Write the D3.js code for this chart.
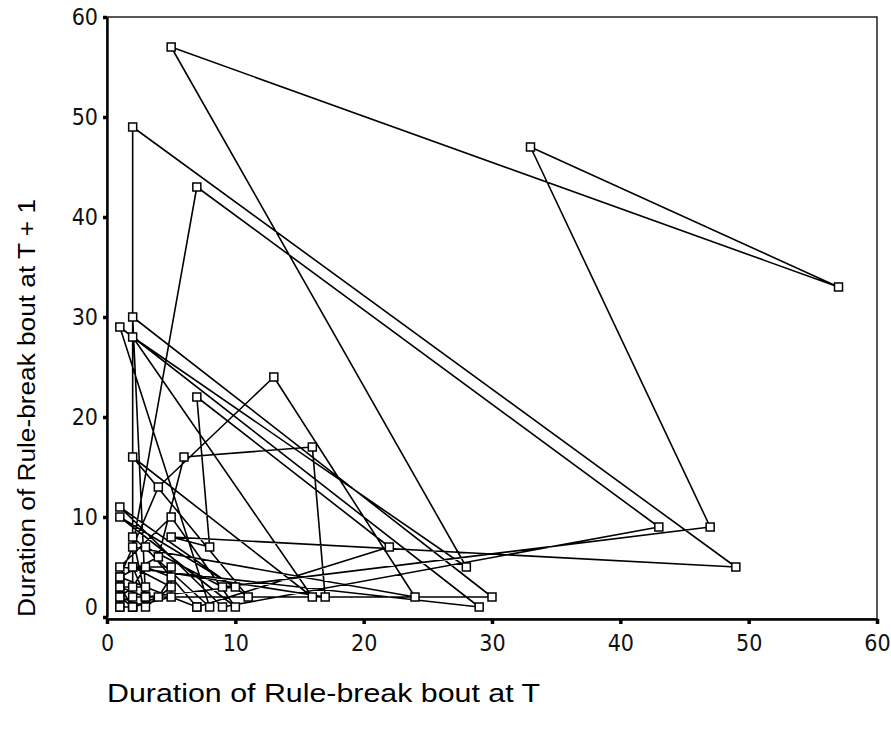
<!DOCTYPE html>
<html>
<head>
<meta charset="utf-8">
<script src="https://cdn.jsdelivr.net/npm/d3@7"></script>
<style>
  body { margin: 0; background: #fff; }
  .tick text { font-family: "Liberation Sans Narrow", "DejaVu Sans Condensed", "Liberation Sans", sans-serif; font-size: 23px; fill: #111; }
</style>
</head>
<body>
<div id="chart"></div>
<script>
// Successive rule-break bout durations; each point is (bout T, bout T + 1)
const boutDurations = [
  1, 2, 1, 1, 3, 2, 8, 1, 29, 1, 5, 10, 1, 10, 3, 2, 30, 2, 2, 49, 5, 8, 7, 22,
  7, 1, 4, 13, 24, 2, 7, 43, 9, 1, 11, 2, 16, 2, 28, 5, 57, 33, 47, 9, 3, 7, 1,
  4, 6, 16, 17, 2, 5, 3, 1, 2, 3, 5, 4, 2, 1, 3, 3, 2, 5, 5, 2, 1, 1
];
const xTicks = [0, 10, 20, 30, 40, 50, 60];
const yTicks = [0, 10, 20, 30, 40, 50, 60];
const xTitle = 'Duration of Rule-break bout at T';
const yTitle = 'Duration of Rule-break bout at T + 1';

const width = 891, height = 734;
const margin = {left: 107, top: 17, right: 14, bottom: 117};

const svg = d3.select('#chart').append('svg')
    .attr('width', width)
    .attr('height', height);

const x = d3.scaleLinear().domain([0, 60]).range([margin.left, width - margin.right]);
const y = d3.scaleLinear().domain([0, 60]).range([height - margin.bottom, margin.top]);

// build return-map pairs
let pairs = [];
for (let i = 0; i < boutDurations.length - 1; i++) {
  pairs.push({t: boutDurations[i], t1: boutDurations[i + 1]});
}

// frame
svg.append('rect')
    .attr('x', x(0)).attr('y', y(60))
    .attr('width', x(60) - x(0)).attr('height', y(0) + 2 - y(60))
    .attr('fill', 'none').attr('stroke', '#000').attr('stroke-width', 1.3);

// axes
const xAxis = d3.axisBottom(x).tickValues(xTicks).tickSize(5).tickPadding(11).tickSizeOuter(0);
const gx = svg.append('g')
    .attr('transform', 'translate(0,' + (y(0) + 2) + ')')
    .call(xAxis);
gx.select('.domain').attr('stroke-width', 2.4);
gx.selectAll('.tick line').attr('stroke-width', 3.5);

const yAxis = d3.axisLeft(y).tickValues(yTicks).tickSize(4).tickPadding(5).tickSizeOuter(0);
const gy = svg.append('g')
    .attr('transform', 'translate(' + x(0) + ',0)')
    .call(yAxis);
gy.select('.domain').attr('stroke-width', 2.4);
gy.selectAll('.tick line').attr('stroke-width', 3.5);
gy.selectAll('.tick text').attr('dy', d => d === 0 ? '-0.1em' : '0.32em');

// connecting line
const line = d3.line().x(d => x(d.t)).y(d => y(d.t1));
svg.append('path')
    .attr('d', line(pairs))
    .attr('fill', 'none')
    .attr('stroke', '#000')
    .attr('stroke-width', 1.6)
    .attr('stroke-linejoin', 'round');

// square markers
const s = 8;
svg.append('g').selectAll('rect')
    .data(pairs)
    .enter().append('rect')
    .attr('x', d => x(d.t) - s / 2)
    .attr('y', d => y(d.t1) - s / 2)
    .attr('width', s).attr('height', s)
    .attr('fill', '#fff')
    .attr('stroke', '#000')
    .attr('stroke-width', 1.5);

// titles
svg.append('text')
    .attr('x', 107)
    .attr('y', 702)
    .attr('textLength', 433)
    .attr('lengthAdjust', 'spacingAndGlyphs')
    .style('font-family', '"Liberation Sans Narrow", "Liberation Sans", sans-serif')
    .style('font-size', '26px')
    .text(xTitle);

svg.append('text')
    .attr('transform', 'translate(35,617) rotate(-90)')
    .attr('textLength', 418)
    .attr('lengthAdjust', 'spacingAndGlyphs')
    .style('font-family', '"Liberation Sans", Arial, sans-serif')
    .style('font-size', '23px')
    .text(yTitle);
</script>
</body>
</html>
